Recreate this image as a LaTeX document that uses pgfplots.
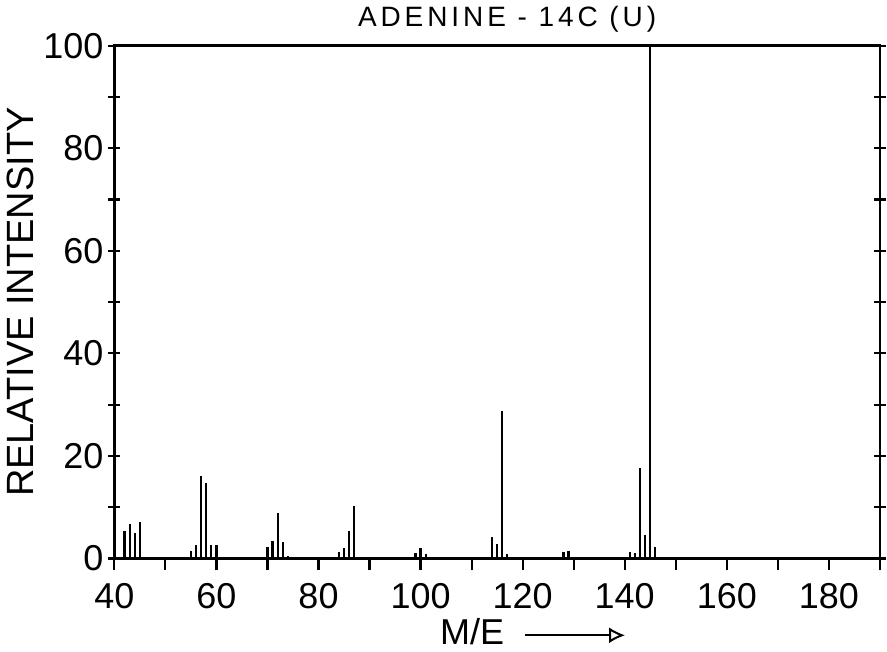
\documentclass[border=0pt]{standalone}
\usepackage{fontspec}
\setmainfont{Liberation Sans}
\usepackage{pgfplots}
\pgfplotsset{compat=1.18}
\usetikzlibrary{arrows.meta}
\pgfplotstableread{
mz inten
42 5.3
43 6.8
44 4.9
45 7.2
55 1.4
56 2.7
57 16.1
58 14.8
59 2.7
60 2.6
70 2.3
71 3.5
72 8.9
73 3.2
74 0.5
84 1.3
85 2.0
86 5.3
87 10.3
99 1.1
100 2.1
101 0.9
114 4.2
115 2.9
116 28.7
117 0.8
128 1.3
129 1.4
141 1.3
142 1.1
143 17.7
144 4.6
145 100
146 2.2
}\peaks
\begin{document}
\begin{tikzpicture}
\begin{axis}[
  scale only axis,
  width=383pt, height=256.5pt,
  xmin=40, xmax=190, ymin=0, ymax=100,
  xtick={40,60,...,180}, minor xtick={50,70,...,190},
  ytick={0,20,...,100}, minor ytick={10,30,...,90},
  xtick pos=bottom, ytick pos=both,
  xtick align=outside, ytick align=center,
  major tick length=6pt, minor tick length=6pt,
  tick style={line width=1.1pt, black},
  axis line style={line width=1.4pt},
  /pgf/number format/assume math mode=true,
  ticklabel style={font=\fontsize{18}{18}\selectfont},
  yticklabel style={xshift=1pt},
  xticklabel style={yshift=-3pt},
  title={\addfontfeature{LetterSpace=14}ADENINE - 14C (U)},
  title style={font=\fontsize{14}{14}\selectfont, yshift=-3pt, xshift=5pt},
  xlabel={M/E\ \ \tikz[baseline=-0.5ex]\draw[line width=1pt,-{Latex[open,length=8pt,width=8pt]}] (0,0)--(50pt,0);},
  xlabel style={font=\fontsize{18}{18}\selectfont, xshift=18pt, yshift=2pt},
  ylabel={RELATIVE INTENSITY},
  ylabel style={font=\fontsize{19}{19}\selectfont, yshift=-2pt},
]
\addplot[ycomb, line width=1.1pt, black, mark=none] table[x=mz, y=inten] {\peaks};
\end{axis}
\end{tikzpicture}
\end{document}
